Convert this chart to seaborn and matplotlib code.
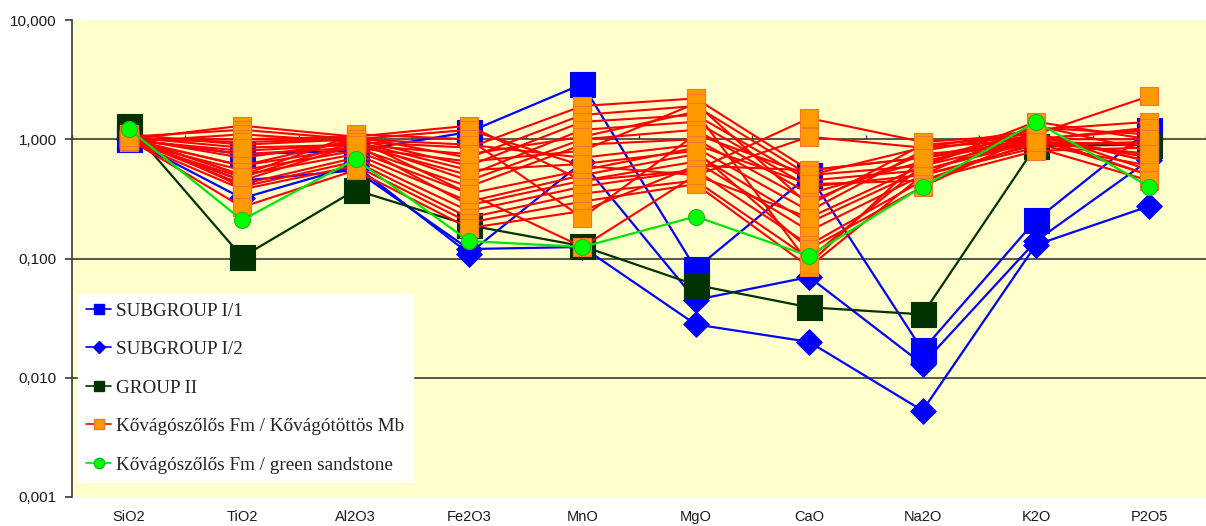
import numpy as np
import pandas as pd
import matplotlib
matplotlib.use("Agg")
import matplotlib.pyplot as plt
import seaborn as sns
from matplotlib.lines import Line2D

# ---------------- data ----------------
oxides = ["SiO2", "TiO2", "Al2O3", "Fe2O3", "MnO", "MgO", "CaO", "Na2O", "K2O", "P2O5"]

subgroup_i1 = [
    [1.00, 0.75, 0.80, 1.15, 2.90, 0.082, 0.50, 0.017, 0.21, 1.20],
]
subgroup_i2 = [
    [1.00, 0.32, 0.60, 0.11, 0.64, 0.045, 0.070, 0.013, 0.14, 0.67],
    [1.00, 0.45, 0.55, 0.12, 0.125, 0.028, 0.020, 0.0053, 0.13, 0.275],
]
group_ii = [
    [1.30, 0.103, 0.375, 0.19, 0.127, 0.060, 0.039, 0.034, 0.88, 0.90],
]
kovagotottos_mb = [
    [1.00, 1.30, 1.05, 1.30, 0.45, 0.55, 1.50, 0.95, 1.10, 2.30],
    [1.05, 1.20, 1.00, 1.20, 0.60, 0.50, 1.05, 0.85, 1.20, 1.40],
    [0.95, 1.10, 0.95, 0.85, 1.90, 2.20, 0.55, 0.70, 1.00, 1.20],
    [1.00, 1.00, 1.05, 0.70, 1.60, 1.90, 0.50, 0.60, 1.40, 1.00],
    [1.10, 0.90, 1.00, 0.60, 1.40, 1.60, 0.45, 0.55, 0.95, 0.90],
    [0.98, 0.80, 0.90, 0.50, 1.20, 1.40, 0.40, 0.50, 1.30, 0.80],
    [1.02, 0.70, 0.95, 0.45, 1.00, 1.20, 0.35, 0.65, 1.05, 0.70],
    [1.00, 0.60, 0.85, 0.40, 0.90, 1.00, 0.30, 0.75, 0.90, 0.60],
    [0.95, 0.55, 0.80, 0.35, 0.55, 0.85, 0.25, 0.80, 1.15, 0.55],
    [1.05, 0.50, 0.75, 0.30, 0.50, 0.75, 0.20, 0.55, 1.00, 0.50],
    [1.00, 0.45, 0.90, 0.28, 0.45, 0.65, 0.17, 0.50, 0.85, 0.45],
    [1.00, 0.42, 0.70, 0.25, 0.40, 0.55, 0.13, 0.45, 0.95, 0.75],
    [1.08, 0.40, 0.65, 0.22, 0.35, 0.45, 0.10, 0.60, 1.25, 1.10],
    [0.97, 0.38, 0.60, 0.20, 0.30, 0.42, 0.085, 0.50, 0.90, 0.95],
    [1.00, 0.27, 0.55, 0.18, 0.25, 0.60, 0.55, 0.70, 1.10, 0.65],
    [1.03, 0.50, 1.10, 1.00, 0.22, 1.10, 0.50, 0.85, 1.00, 1.25],
    [0.99, 0.60, 1.00, 0.90, 0.70, 0.90, 0.42, 0.45, 0.80, 0.85],
    [1.01, 0.75, 0.85, 0.65, 0.80, 2.00, 0.28, 0.90, 1.05, 0.50],
    [1.00, 0.95, 1.00, 0.35, 0.125, 0.50, 0.22, 0.60, 1.00, 1.00],
    [0.96, 0.48, 0.95, 0.55, 0.62, 0.80, 0.12, 0.40, 1.10, 0.65],
    [1.04, 0.85, 0.90, 0.75, 1.05, 1.70, 0.09, 0.70, 0.95, 0.75],
]
green_sandstone = [
    [1.22, 0.21, 0.68, 0.14, 0.125, 0.225, 0.105, 0.40, 1.40, 0.40],
]

group_names = [
    "SUBGROUP I/1",
    "SUBGROUP I/2",
    "GROUP II",
    "Kővágószőlős Fm / Kővágótöttös Mb",
    "Kővágószőlős Fm / green sandstone",
]
group_data = [subgroup_i1, subgroup_i2, group_ii, kovagotottos_mb, green_sandstone]

y_ticks = [0.001, 0.01, 0.1, 1, 10]
y_tick_labels = ["0,001", "0,010", "0,100", "1,000", "10,000"]

# ---------------- long table ----------------
rows = []
for gname, samples in zip(group_names, group_data):
    for si, vals in enumerate(samples):
        for oi, v in enumerate(vals):
            rows.append({"group": gname, "sample": f"{gname}-{si}", "pos": oi,
                         "oxide": oxides[oi], "value": v})
df = pd.DataFrame(rows)

# ---------------- styles ----------------
styles = {
    "SUBGROUP I/1": dict(line="#0000FF", face="#0000FF", edge="#0000FF", marker="s", ms=18, lw=1.6),
    "SUBGROUP I/2": dict(line="#0000FF", face="#0000FF", edge="#0000FF", marker="D", ms=13, lw=1.6),
    "GROUP II": dict(line="#003300", face="#003300", edge="#003300", marker="s", ms=18, lw=1.6),
    "Kővágószőlős Fm / Kővágótöttös Mb": dict(line="#FF0000", face="#FF9900", edge="#F2772B", marker="s", ms=12.5, lw=1.5),
    "Kővágószőlős Fm / green sandstone": dict(line="#00E600", face="#00FF00", edge="#22B422", marker="o", ms=11.5, lw=1.6),
}

sns.set_theme(style="white")
plt.rcParams["font.family"] = ["Liberation Sans", "DejaVu Sans"]

fig = plt.figure(figsize=(12.06, 5.26), dpi=100)
fig.patch.set_facecolor("white")
ax = fig.add_axes([72 / 1206, 29 / 526, 1134 / 1206, 477 / 526])
ax.set_facecolor("#FFFFCC")
ax.set_yscale("log")

z = 3
for gname in group_names:
    st = styles[gname]
    sub = df[df["group"] == gname]
    sns.lineplot(data=sub, x="pos", y="value", units="sample", estimator=None,
                 sort=False, color=st["line"], lw=st["lw"], ax=ax, legend=False,
                 zorder=z)
    sns.scatterplot(data=sub, x="pos", y="value", marker=st["marker"],
                    s=st["ms"] ** 2, color=st["face"], edgecolor=st["edge"],
                    linewidth=0.8, ax=ax, legend=False, zorder=z + 1)
    z += 2

# gridlines at inner decades
for yt in y_ticks[1:-1]:
    ax.axhline(yt, color="#3a3a3a", lw=1.2, zorder=1)

ax.set_ylim(0.001, 10)
ax.set_xlim(-0.5, 9.5)
ax.set_yticks(y_ticks)
ax.set_yticklabels(y_tick_labels)
ax.yaxis.set_minor_locator(matplotlib.ticker.NullLocator())
ax.set_xticks(range(len(oxides)))
ax.set_xticklabels(oxides)
ax.set_xlabel("")
ax.set_ylabel("")
ax.tick_params(axis="y", which="major", length=5, width=1.2, color="#3a3a3a",
               pad=6, labelsize=11, labelcolor="#1a1a1a", left=True)
ax.tick_params(axis="x", length=0, pad=9.5, labelsize=10.5, labelcolor="#1a1a1a")

for s in ["top", "right", "bottom"]:
    ax.spines[s].set_visible(False)
ax.spines["left"].set_color("#3a3a3a")
ax.spines["left"].set_linewidth(1.2)

# category tick marks on the axis crossing at 1,000
sec = ax.secondary_xaxis(0.75)
sec.set_xticks(np.arange(-0.5, 10, 1.0))
sec.tick_params(axis="x", length=3, width=1, color="#3a3a3a", direction="out",
                labeltop=False, labelbottom=False, top=True)
for s in sec.spines.values():
    s.set_visible(False)

# legend
handles = []
for gname in group_names:
    st = styles[gname]
    handles.append(Line2D([0], [0], color=st["line"], lw=1.2, marker=st["marker"],
                          markersize=7.5 if st["marker"] != "D" else 6.5,
                          markerfacecolor=st["face"], markeredgecolor=st["edge"]))
leg = ax.legend(handles, group_names, loc="lower left", bbox_to_anchor=(0.005, 0.031),
                frameon=True, fancybox=False, framealpha=1, edgecolor="white",
                facecolor="white", borderaxespad=0, borderpad=0.45,
                handlelength=1.3, handletextpad=0.25, labelspacing=1.1,
                prop={"family": "Liberation Serif", "size": 13.8})
leg.set_zorder(50)
for t in leg.get_texts():
    t.set_color("#222222")

fig.savefig("out.png", dpi=100, facecolor="white")
